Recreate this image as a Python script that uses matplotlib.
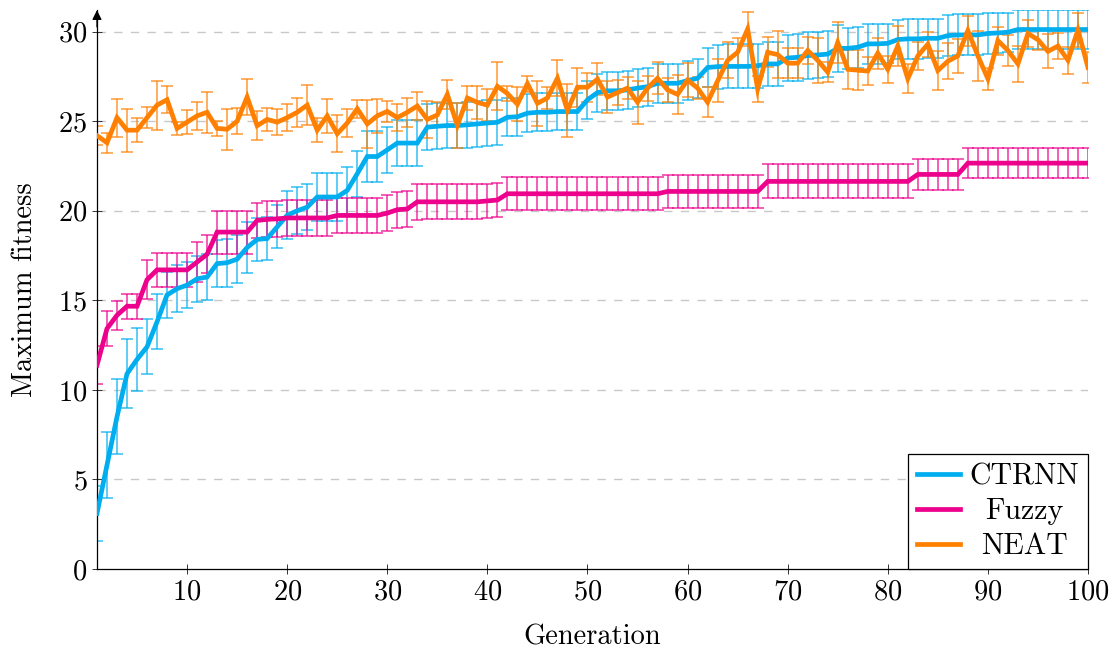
import numpy as np
import matplotlib
matplotlib.use("Agg")
import matplotlib.pyplot as plt

plt.rcParams['font.family'] = ['cmr10', 'DejaVu Serif']
plt.rcParams['axes.formatter.use_mathtext'] = True
plt.rcParams['mathtext.fontset'] = 'cm'

generations = list(range(1, 101))

ctrnn_mean = [3.1, 5.8, 8.5, 10.9, 11.7, 12.4, 13.8, 15.3, 15.65, 15.85,
              16.2, 16.3, 17.05, 17.1, 17.3, 17.95, 18.4, 18.45, 19.1, 19.75,
              20.0, 20.2, 20.77, 20.77, 20.77, 21.14, 22.07, 23.03, 23.03, 23.4,
              23.78, 23.78, 23.78, 24.67, 24.72, 24.76, 24.76, 24.8, 24.85, 24.9,
              24.94, 25.22, 25.25, 25.45, 25.5, 25.5, 25.54, 25.54, 25.54, 26.2,
              26.6, 26.7, 26.7, 26.75, 26.85, 26.93, 27.12, 27.12, 27.12, 27.27,
              27.4, 28.0, 28.05, 28.06, 28.06, 28.06, 28.1, 28.2, 28.2, 28.53,
              28.57, 28.67, 28.7, 28.75, 29.07, 29.07, 29.13, 29.32, 29.32, 29.35,
              29.56, 29.6, 29.6, 29.63, 29.63, 29.78, 29.82, 29.82, 29.82, 29.9,
              29.93, 29.97, 30.12, 30.12, 30.12, 30.12, 30.12, 30.12, 30.12, 30.12]
ctrnn_err = [1.55, 1.86, 2.1, 1.93, 1.77, 1.53, 1.54, 1.3, 1.3, 1.3,
             1.3, 1.3, 1.3, 1.35, 1.35, 1.4, 1.2, 1.2, 1.2, 1.35,
             1.3, 1.3, 1.35, 1.35, 1.35, 1.3, 1.28, 1.4, 1.4, 1.3,
             1.3, 1.3, 1.3, 1.27, 1.27, 1.27, 1.27, 1.27, 1.27, 1.27,
             1.27, 1.05, 1.05, 1.05, 1.05, 1.05, 1.05, 1.05, 1.05, 1.05,
             1.06, 1.06, 1.06, 1.06, 1.06, 1.06, 1.1, 1.1, 1.1, 1.1,
             1.1, 1.1, 1.23, 1.23, 1.23, 1.23, 1.23, 1.23, 1.23, 1.3,
             1.3, 1.3, 1.3, 1.3, 1.3, 1.14, 1.14, 1.1, 1.1, 1.1,
             1.1, 1.1, 1.1, 1.1, 1.1, 1.14, 1.14, 1.14, 1.14, 1.14,
             1.1, 1.1, 1.1, 1.1, 1.1, 1.1, 1.1, 1.1, 1.1, 1.1]

fuzzy_mean = [11.38, 13.42, 14.17, 14.67, 14.67, 16.15, 16.7, 16.7, 16.7, 16.7,
              17.14, 17.57, 18.81, 18.81, 18.81, 18.81, 19.46, 19.52, 19.55, 19.6,
              19.6, 19.6, 19.6, 19.6, 19.74, 19.74, 19.74, 19.74, 19.74, 19.87,
              20.06, 20.1, 20.5, 20.5, 20.5, 20.5, 20.5, 20.5, 20.5, 20.55,
              20.6, 20.95, 20.95, 20.95, 20.95, 20.95, 20.95, 20.95, 20.95, 20.95,
              20.95, 20.95, 20.95, 20.95, 20.95, 20.95, 20.95, 21.08, 21.08, 21.08,
              21.08, 21.08, 21.08, 21.08, 21.08, 21.08, 21.08, 21.64, 21.64, 21.64,
              21.64, 21.64, 21.64, 21.64, 21.64, 21.64, 21.64, 21.64, 21.64, 21.64,
              21.64, 21.64, 22.03, 22.03, 22.03, 22.03, 22.03, 22.66, 22.66, 22.66,
              22.66, 22.66, 22.66, 22.66, 22.66, 22.66, 22.66, 22.66, 22.66, 22.66]
fuzzy_err = [1.05, 0.97, 0.8, 0.7, 0.7, 1.08, 0.97, 0.97, 0.97, 0.97,
             1.1, 1.07, 1.2, 1.2, 1.2, 1.2, 1.0, 1.0, 1.0, 1.0,
             1.0, 1.0, 1.0, 1.0, 1.0, 1.0, 1.0, 1.0, 1.0, 1.0,
             1.0, 1.0, 1.0, 0.97, 0.97, 0.97, 0.97, 0.97, 0.97, 0.97,
             0.97, 0.93, 0.93, 0.93, 0.93, 0.93, 0.93, 0.93, 0.93, 0.93,
             0.93, 0.93, 0.93, 0.93, 0.93, 0.93, 0.93, 0.9, 0.9, 0.9,
             0.9, 0.9, 0.9, 0.9, 0.9, 0.9, 0.9, 0.95, 0.95, 0.95,
             0.95, 0.95, 0.95, 0.95, 0.95, 0.95, 0.95, 0.95, 0.95, 0.95,
             0.95, 0.95, 0.88, 0.88, 0.88, 0.88, 0.88, 0.84, 0.84, 0.84,
             0.84, 0.84, 0.84, 0.84, 0.84, 0.84, 0.84, 0.84, 0.84, 0.84]

neat_mean = [24.2, 23.8, 25.2, 24.5, 24.5, 25.2, 25.9, 26.2, 24.6, 24.95,
             25.3, 25.5, 24.6, 24.55, 25.0, 26.35, 24.75, 25.1, 24.95, 25.2,
             25.5, 25.9, 24.5, 25.3, 24.3, 24.9, 25.7, 24.85, 25.3, 25.55,
             25.2, 25.5, 25.85, 25.1, 25.35, 26.5, 24.76, 26.3, 26.05, 25.9,
             26.95, 26.55, 25.95, 27.1, 26.0, 26.3, 27.4, 25.6, 26.9, 26.9,
             27.35, 26.35, 26.6, 26.85, 26.06, 26.85, 27.4, 26.75, 26.5, 27.3,
             26.85, 26.06, 27.25, 28.4, 28.85, 30.15, 26.8, 28.85, 28.72, 28.24,
             28.24, 28.95, 28.4, 27.74, 29.4, 27.9, 27.85, 27.8, 28.8, 27.9,
             29.2, 27.37, 28.65, 29.3, 27.83, 28.35, 28.65, 30.06, 28.65, 27.37,
             29.5, 28.95, 28.2, 29.9, 29.55, 28.9, 29.2, 28.4, 30.1, 28.0]
neat_err = [0.55, 0.56, 1.06, 1.2, 0.67, 0.6, 1.37, 0.74, 0.35, 0.67,
            0.8, 1.15, 0.4, 1.16, 0.73, 1.0, 0.8, 0.65, 0.73, 0.75,
            0.8, 1.1, 0.66, 0.95, 1.04, 0.8, 0.5, 1.35, 0.95, 0.6,
            0.75, 0.8, 0.8, 1.05, 0.7, 0.8, 1.27, 0.67, 0.9, 0.9,
            1.35, 0.4, 0.95, 0.45, 1.27, 0.6, 1.0, 1.5, 1.1, 0.8,
            0.9, 0.9, 0.7, 0.6, 1.2, 0.7, 0.9, 0.65, 1.1, 0.95,
            0.6, 0.85, 1.2, 1.0, 0.8, 0.93, 0.7, 0.84, 1.3, 0.84,
            0.84, 0.75, 1.27, 0.55, 1.15, 1.1, 1.1, 0.8, 0.87, 0.75,
            1.1, 0.8, 0.8, 0.7, 1.1, 1.0, 0.95, 0.84, 1.4, 0.6,
            0.78, 0.84, 1.0, 0.75, 0.6, 0.95, 0.7, 0.77, 0.95, 0.85]

series = [("CTRNN", ctrnn_mean, ctrnn_err, "#00aeef"),
          ("Fuzzy", fuzzy_mean, fuzzy_err, "#ec008c"),
          ("NEAT", neat_mean, neat_err, "#ff8000")]

fig = plt.figure(figsize=(11.16, 6.49), dpi=100)
ax = fig.add_axes([0.0869, 0.1233, 0.888, 0.861])

for name, mean, err, col in series:
    ax.errorbar(generations, mean, yerr=err, fmt='none', ecolor=col,
                elinewidth=1.1, capsize=4.5, capthick=1.1, alpha=0.8, zorder=2)
    ax.plot(generations, mean, color=col, lw=3.4, label=name, zorder=3,
            solid_joinstyle='miter')

ax.set_xlim(1, 100)
ax.set_ylim(0, 31.2)
ax.set_xticks([10, 20, 30, 40, 50, 60, 70, 80, 90, 100])
ax.set_yticks([0, 5, 10, 15, 20, 25, 30])
for yv in [5, 10, 15, 20, 25, 30]:
    ax.axhline(yv, color='#c8c8c8', lw=1.0, ls=(0, (6, 6)), zorder=1)

ax.spines['top'].set_visible(False)
ax.spines['right'].set_visible(False)
ax.spines['left'].set_linewidth(0.9)
ax.spines['bottom'].set_linewidth(0.9)
ax.tick_params(direction='inout', length=7, width=0.7, labelsize=20.5,
               colors='#333333', labelcolor='black')
ax.annotate('', xy=(0, 1.0), xycoords='axes fraction', xytext=(0, 0.97),
            arrowprops=dict(arrowstyle='-|>', color='black', lw=0.9,
                            mutation_scale=14, shrinkA=0, shrinkB=0))

ax.set_xlabel('Generation', fontsize=20.5, labelpad=14)
ax.set_ylabel('Maximum fitness', fontsize=20.5, labelpad=14)

leg = ax.legend(loc='lower right', fontsize=21.5, frameon=True, fancybox=False,
                edgecolor='black', framealpha=1, borderaxespad=0.0,
                handlelength=1.45, handletextpad=0.3, borderpad=0.3,
                labelspacing=0.25)
leg.get_frame().set_linewidth(0.9)

# center the labels inside the legend like the original
fig.canvas.draw()
r = fig.canvas.get_renderer()
widths = [t.get_window_extent(r).width for t in leg.get_texts()]
mw = max(widths)
for t, w in zip(leg.get_texts(), widths):
    t.set_x((mw - w) / 2)

fig.savefig('out.png', dpi=100)
